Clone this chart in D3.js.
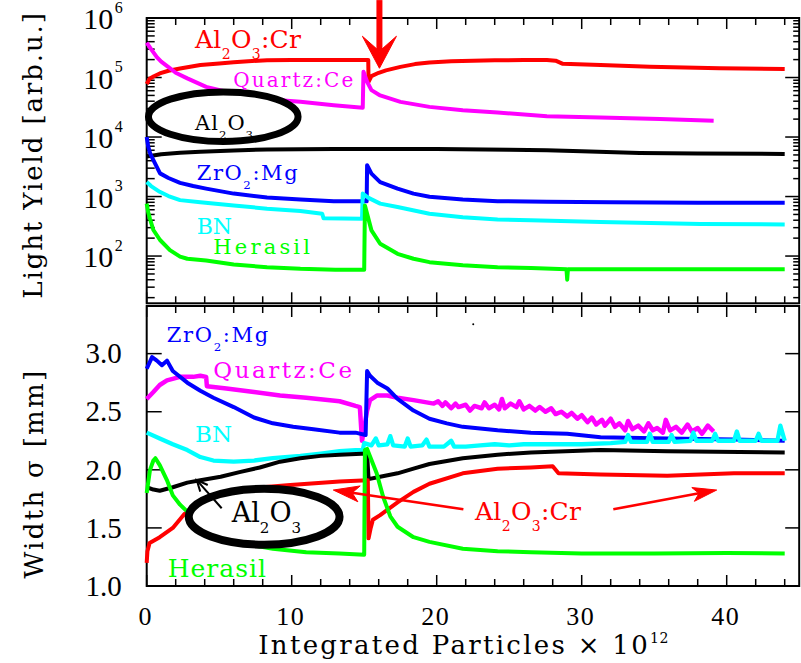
<!DOCTYPE html>
<html><head><meta charset="utf-8">
<script src="https://cdn.jsdelivr.net/npm/d3@7"></script>
<style>html,body{margin:0;padding:0;background:#fff;} svg{display:block;}</style>
</head><body><svg id="c" width="801" height="663"></svg>
<script>
// ---------------- DATA ----------------
const xMajor = [0, 10, 20, 30, 40];
const xMinor = [2,4,6,8,12,14,16,18,22,24,26,28,32,34,36,38,42,44];
const xTickLabels = ["0","10","20","30","40"];
const lyDecades = [100, 1000, 10000, 100000, 1000000];
const lyExp = ["2","3","4","5","6"];
const wTicks = [1.0, 1.5, 2.0, 2.5, 3.0];
const wTickLabels = ["1.0","1.5","2.0","2.5","3.0"];

// Light yield (top panel) [integrated particles x1e12, light yield]
const lyAl2O3Cr = [[0,78000],[0.2,95000],[0.5,105000],[0.9,117000],[1.5,130000],[2.3,142000],[3.7,162000],[5,172000],[6,180000],[7,188000],[8.3,195000],[10,196000],[12,196000],[14,196000],[15.28,196000],[15.3,84700],[15.5,105700],[16,120000],[16.5,132000],[17.5,151000],[18.5,168000],[19.5,179000],[21,187000],[22.5,192000],[24,195000],[26,196000],[27.6,197000],[28.2,192000],[28.7,170000],[31.3,162000],[34.7,152000],[39.5,143000],[44,139000]];
const lyQuartzCe = [[0,384000],[0.3,300000],[0.7,220000],[1.0,185000],[1.5,150000],[2,120000],[2.8,96700],[4.1,69600],[6,54000],[8.3,43300],[10.6,39000],[12.9,34300],[14.9,31000],[14.95,125000],[15.2,85000],[15.5,61400],[16.1,50000],[17.5,39000],[19.5,32100],[21.8,28300],[24.2,25800],[27.6,22400],[31.3,21300],[35.4,20000],[39.1,18700]];
const lyAl2O3 = [[0,4700],[1,5150],[2.3,5440],[3.7,5630],[6,5950],[8.3,6170],[12.9,6270],[15,6300],[20,6270],[25,6100],[27.6,6000],[30,5750],[34,5400],[38,5300],[44,5200]];
const lyZrO2Mg = [[0,10000],[0.1,7000],[0.25,5200],[0.46,4100],[0.92,2450],[1.5,2050],[2.3,1700],[3.2,1500],[4.1,1360],[6,1120],[8.3,960],[10.6,890],[12.9,836],[15.17,830],[15.2,3350],[15.5,2430],[16.1,1750],[17.3,1360],[18.4,1120],[19.5,990],[21.8,890],[24.2,836],[27.6,820],[32,800],[38,790],[44,790]];
const lyBN = [[0,1750],[0.3,1500],[0.9,1200],[1.5,1020],[2.3,870],[3.7,800],[6,710],[8.3,625],[10.6,570],[12.1,515],[12.2,430],[14.85,425],[14.9,1120],[15.3,950],[16.1,760],[17.3,665],[19.5,515],[21.8,450],[24.2,413],[26.5,400],[31.3,372],[38.2,345],[44,340]];
const lyHerasil = [[0,760],[0.1,550],[0.23,420],[0.46,274],[0.92,186],[1.6,126],[2.3,98],[2.8,90],[4.1,84],[6,72],[8.3,65],[10.6,61],[13,59],[15.0,59],[15.05,710],[15.5,270],[16.1,161],[17.3,109],[18.4,90],[19.5,79],[21.8,70],[24.2,65],[26.5,63],[28.95,60],[29.0,40],[29.05,60],[35,60],[44,60]];

// Beam width (bottom panel) [integrated particles x1e12, width sigma mm]
const wZrO2Mg = [[0,2.87],[0.37,2.97],[0.7,2.94],[1.05,2.90],[1.4,2.94],[1.8,2.85],[2.8,2.75],[3.7,2.68],[4.6,2.62],[6,2.54],[7.4,2.45],[8.7,2.40],[10.1,2.37],[11.5,2.35],[13.3,2.32],[14.4,2.32],[15.1,2.30],[15.2,2.85],[15.4,2.81],[15.9,2.75],[16.6,2.70],[17.3,2.61],[18.4,2.51],[19.5,2.44],[20.7,2.40],[21.8,2.37],[24.2,2.34],[26.5,2.32],[29,2.31],[31.3,2.28],[35.9,2.27],[40.5,2.26],[44,2.25]];
const wQuartzCe = [[0,2.61],[0.46,2.67],[0.9,2.73],[1.4,2.77],[2.3,2.80],[3.2,2.80],[3.7,2.81],[4.1,2.80],[4.15,2.72],[5.5,2.70],[7.4,2.67],[9.2,2.64],[11,2.62],[13.3,2.59],[14.4,2.55],[14.7,2.54],[14.85,2.25],[15.2,2.51],[15.4,2.60],[15.9,2.64],[16.6,2.64],[17.3,2.62],[18.4,2.60],[19.8,2.57],[20.1,2.59],[20.4,2.55],[20.6,2.58],[21.0,2.53],[21.3,2.57],[21.5,2.54],[22.0,2.56],[22.3,2.51],[22.6,2.55],[23.1,2.53],[23.3,2.58],[23.6,2.53],[24.0,2.56],[24.3,2.52],[24.5,2.61],[24.7,2.53],[25.1,2.57],[25.5,2.54],[25.7,2.59],[26.0,2.52],[26.4,2.55],[26.8,2.51],[27.1,2.54],[27.5,2.50],[27.9,2.53],[28.2,2.48],[28.6,2.50],[29.0,2.46],[29.3,2.49],[29.7,2.44],[30.0,2.47],[30.4,2.41],[30.7,2.45],[31.0,2.39],[31.4,2.43],[31.6,2.38],[32.0,2.44],[32.3,2.37],[32.6,2.40],[33.0,2.34],[33.2,2.42],[33.5,2.35],[33.9,2.38],[34.3,2.33],[34.6,2.40],[34.9,2.34],[35.2,2.36],[35.6,2.32],[35.8,2.43],[36.1,2.34],[36.5,2.37],[36.9,2.32],[37.3,2.39],[37.6,2.33],[38.0,2.36],[38.3,2.31],[38.7,2.38],[39.1,2.33]];
const wBN = [[0,2.32],[0.9,2.27],[1.8,2.22],[2.8,2.17],[3.7,2.11],[4.6,2.08],[6,2.07],[7.4,2.08],[8.7,2.10],[10.6,2.12],[12,2.14],[13.3,2.16],[14.4,2.17],[14.9,2.17],[15.0,2.23],[15.5,2.21],[15.8,2.27],[16.0,2.21],[16.6,2.22],[16.8,2.29],[17.0,2.21],[17.8,2.20],[18.0,2.27],[18.2,2.20],[19,2.21],[19.3,2.26],[19.5,2.20],[20.5,2.20],[21,2.25],[21.2,2.20],[22,2.20],[23,2.21],[24,2.22],[25,2.21],[26,2.22],[27,2.22],[28,2.22],[30,2.22],[32,2.23],[33,2.24],[33.2,2.30],[33.4,2.24],[34.5,2.24],[34.7,2.31],[34.9,2.24],[36,2.24],[36.2,2.30],[36.4,2.24],[37.5,2.25],[37.7,2.32],[37.9,2.25],[39,2.25],[39.2,2.31],[39.4,2.25],[40.5,2.25],[40.7,2.33],[40.9,2.25],[42,2.25],[42.2,2.31],[42.4,2.25],[43.5,2.25],[43.7,2.38],[44,2.25]];
const wAl2O3 = [[0,1.85],[0.46,1.83],[0.9,1.82],[1.8,1.85],[2.8,1.89],[3.7,1.91],[5.1,1.94],[6.4,1.98],[7.8,2.02],[9.2,2.07],[10.6,2.10],[12,2.12],[13.3,2.13],[15.2,2.14],[15.3,1.92],[16.1,1.94],[17.3,1.97],[18.4,2.01],[19.5,2.05],[21.8,2.10],[24.2,2.13],[26.5,2.15],[31.3,2.17],[35.9,2.16],[44,2.15]];
const wAl2O3Cr = [[0,1.20],[0.05,1.30],[0.2,1.37],[0.9,1.42],[1.8,1.50],[2.6,1.62],[4,1.72],[5.7,1.82],[8,1.85],[9.9,1.87],[13.3,1.90],[15.25,1.91],[15.3,1.41],[15.45,1.50],[15.6,1.57],[16.1,1.61],[17.3,1.72],[18.4,1.81],[19.5,1.88],[21.8,1.97],[24.2,2.01],[26.5,2.02],[28,2.03],[28.4,1.97],[31.3,1.96],[35.9,1.95],[40.5,1.97],[44,1.97]];
const wHerasil = [[0,1.80],[0.23,2.0],[0.46,2.08],[0.6,2.10],[0.9,2.04],[1.4,1.91],[1.8,1.78],[2.3,1.70],[2.8,1.64],[3.5,1.55],[4.6,1.42],[6.4,1.37],[8.7,1.32],[11,1.29],[13.3,1.28],[15.0,1.27],[15.05,2.17],[15.2,2.18],[15.86,1.97],[16.3,1.77],[16.8,1.60],[17.3,1.51],[18.4,1.42],[19.5,1.38],[21.8,1.32],[24.2,1.30],[26.5,1.29],[30,1.28],[35,1.28],[40,1.285],[44,1.28]];

// ---------------- CHART ----------------
const svg = d3.select("#c");
const TXT = "DejaVu Serif", NUM = "Liberation Serif";
const x = d3.scaleLinear().domain([0, 45]).range([146.7, 799.2]);
const yTop = d3.scaleLog().domain([Math.pow(10, 1.206), 1e6]).range([303.3, 18]);
const yBot = d3.scaleLinear().domain([1.0, 3.41]).range([586, 306]);

const RED="#ff0000", MAG="#ff00ff", BLK="#000000", BLU="#0000ff", CYN="#00ffff", GRN="#00ff00";

function drawCurve(data, ys, color, w) {
  svg.append("path").datum(data)
    .attr("d", d3.line().x(d => x(d[0])).y(d => ys(d[1])))
    .attr("fill", "none").attr("stroke", color).attr("stroke-width", w || 4)
    .attr("stroke-linejoin", "round").attr("stroke-linecap", "butt");
}

// frames & ticks
function frame(ys) {
  const [y0, y1] = ys.range(); // bottom, top
  const g = svg.append("g").attr("stroke", "#000").attr("fill", "none");
  g.append("rect").attr("x", x(0)).attr("y", y1).attr("width", x(45) - x(0)).attr("height", y0 - y1).attr("stroke-width", 2);
  const t = g.append("g").attr("stroke-width", 1.5);
  xMajor.forEach(v => {
    t.append("line").attr("x1", x(v)).attr("x2", x(v)).attr("y1", y0).attr("y2", y0 - 11);
    t.append("line").attr("x1", x(v)).attr("x2", x(v)).attr("y1", y1).attr("y2", y1 + 11);
  });
  xMinor.forEach(v => {
    t.append("line").attr("x1", x(v)).attr("x2", x(v)).attr("y1", y0).attr("y2", y0 - 7);
    t.append("line").attr("x1", x(v)).attr("x2", x(v)).attr("y1", y1).attr("y2", y1 + 7);
  });
  return t;
}
const tTop = frame(yTop);
const xl = x(0), xr = x(45);
lyDecades.forEach(v => {
  tTop.append("line").attr("x1", xl).attr("x2", xl + 15).attr("y1", yTop(v)).attr("y2", yTop(v));
  tTop.append("line").attr("x1", xr).attr("x2", xr - 14).attr("y1", yTop(v)).attr("y2", yTop(v));
});
[10, 100, 1000, 1e4, 1e5].forEach(d => {
  for (let m = 2; m <= 9; m++) {
    const v = m * d;
    if (v < yTop.domain()[0]) continue;
    tTop.append("line").attr("x1", xl).attr("x2", xl + 8).attr("y1", yTop(v)).attr("y2", yTop(v));
    tTop.append("line").attr("x1", xr).attr("x2", xr - 6).attr("y1", yTop(v)).attr("y2", yTop(v));
  }
});
const tBot = frame(yBot);
wTicks.forEach(v => {
  tBot.append("line").attr("x1", xl).attr("x2", xl + 15).attr("y1", yBot(v)).attr("y2", yBot(v));
  tBot.append("line").attr("x1", xr).attr("x2", xr - 14).attr("y1", yBot(v)).attr("y2", yBot(v));
});

// tick labels
lyDecades.forEach((v, i) => {
  const t = svg.append("text").attr("x", 83.3).attr("y", yTop(v) + 11)
    .attr("font-family", NUM).attr("font-size", 30).attr("fill", "#000");
  t.append("tspan").text("10");
  t.append("tspan").attr("font-size", 16).attr("dx", 1.5).attr("dy", -16.5).text(lyExp[i]);
});
wTicks.forEach((v, i) => {
  svg.append("text").attr("x", 121.7).attr("y", yBot(v) + 9.7).attr("text-anchor", "end")
    .attr("font-family", NUM).attr("font-size", 29).attr("fill", "#000").text(wTickLabels[i]);
});
xMajor.forEach((v, i) => {
  svg.append("text").attr("x", x(v) - 1).attr("y", 625).attr("text-anchor", "middle")
    .attr("font-family", NUM).attr("font-size", 26).attr("letter-spacing", 1.5).attr("fill", "#000").text(xTickLabels[i]);
});

// axis titles
svg.append("text").attr("transform", "translate(41.7,155) rotate(-90)").attr("text-anchor", "middle")
  .attr("font-family", TXT).attr("font-size", 26).attr("letter-spacing", 1.9).attr("fill", "#000")
  .text("Light Yield [arb.u.]");
svg.append("text").attr("transform", "translate(42.7,473.5) rotate(-90)").attr("text-anchor", "middle")
  .attr("font-family", TXT).attr("font-size", 26).attr("letter-spacing", 2.3).attr("fill", "#000")
  .text("Width σ [mm]");
{
  const t = svg.append("text").attr("x", 258.3).attr("y", 654)
    .attr("font-family", TXT).attr("font-size", 26).attr("letter-spacing", 2.3).attr("fill", "#000");
  t.append("tspan").text("Integrated Particles × 10");
  t.append("tspan").attr("font-size", 14).attr("dy", -11).attr("letter-spacing", 0.5).text("12");
}

// curves
drawCurve(lyAl2O3, yTop, BLK);
drawCurve(lyAl2O3Cr, yTop, RED);
drawCurve(lyQuartzCe, yTop, MAG);
drawCurve(lyZrO2Mg, yTop, BLU);
drawCurve(lyBN, yTop, CYN);
drawCurve(lyHerasil, yTop, GRN);

drawCurve(wQuartzCe, yBot, MAG, 4.5);
drawCurve(wZrO2Mg, yBot, BLU);
drawCurve(wBN, yBot, CYN, 4.3);
drawCurve(wAl2O3, yBot, BLK);
drawCurve(wAl2O3Cr, yBot, RED);
drawCurve(wHerasil, yBot, GRN);

// ---------------- ANNOTATIONS ----------------
function ellipse(cx, cy, rx, ry, sw) {
  svg.append("ellipse").attr("cx", cx).attr("cy", cy).attr("rx", rx).attr("ry", ry)
    .attr("fill", "#fff").attr("stroke", "#000").attr("stroke-width", sw);
}
ellipse(x(5.28), yTop(21960), 74.8, 24.8, 7);
ellipse(x(8.10), yBot(1.596), 75.4, 27.9, 8);

function label(px, py, parts, size, ls, color) {
  const t = svg.append("text").attr("x", px).attr("y", py).attr("font-family", TXT)
    .attr("font-size", size).attr("letter-spacing", ls).attr("fill", color);
  let sub = false;
  parts.forEach(p => {
    const s = t.append("tspan");
    if (p.sub) {
      s.attr("font-size", size * 0.56).attr("dy", size * 0.42).text(p.sub);
      sub = true;
    } else {
      if (sub) s.attr("dy", -size * 0.42);
      sub = false;
      s.text(p.t);
    }
  });
}
// top panel labels
label(195, 48.3, [{t:"Al"},{sub:"2"},{t:"O"},{sub:"3"},{t:":Cr"}], 25, 0.3, RED);
label(233.3, 86.7, [{t:"Quartz:Ce"}], 20, 2.1, MAG);
label(195, 130, [{t:"Al"},{sub:"2"},{t:"O"},{sub:"3"}], 21, 1, BLK);
label(196.7, 180, [{t:"ZrO"},{sub:"2"},{t:":Mg"}], 21, 1.6, BLU);
label(196.7, 233.5, [{t:"BN"}], 22, 0, CYN);
label(213.3, 254, [{t:"Herasil"}], 21, 3.2, GRN);
// bottom panel labels
label(166.7, 341.7, [{t:"ZrO"},{sub:"2"},{t:":Mg"}], 21, 1.7, BLU);
label(213.3, 378.3, [{t:"Quartz:Ce"}], 23, 2.5, MAG);
label(195, 441.7, [{t:"BN"}], 23, 0, CYN);
label(167.7, 576.7, [{t:"Herasil"}], 25, 1, GRN);
label(231.7, 521.7, [{t:"Al"},{sub:"2"},{t:"O"},{sub:"3"}], 27, 0, BLK);
label(475, 520, [{t:"Al"},{sub:"2"},{t:"O"},{sub:"3"},{t:":Cr"}], 25, 0.3, RED);

// arrows
function arrow(tail, tip, color, sw, len, hw, notch, open) {
  const [x0, y0] = tail, [x1, y1] = tip;
  const dx = x1 - x0, dy = y1 - y0, L = Math.hypot(dx, dy);
  const ux = dx / L, uy = dy / L, nx = -uy, ny = ux;
  const bx = x1 - ux * len, by = y1 - uy * len;
  svg.append("line").attr("x1", x0).attr("y1", y0)
    .attr("x2", open ? x1 : x1 - ux * (len - notch)).attr("y2", open ? y1 : y1 - uy * (len - notch))
    .attr("stroke", color).attr("stroke-width", sw);
  if (open) {
    svg.append("path").attr("d", `M${bx + nx*hw},${by + ny*hw}L${x1},${y1}L${bx - nx*hw},${by - ny*hw}`)
      .attr("fill", "none").attr("stroke", color).attr("stroke-width", sw);
  } else {
    const mx = bx + ux * notch, my = by + uy * notch;
    svg.append("path").attr("d", `M${x1},${y1}L${bx + nx*hw},${by + ny*hw}L${mx},${my}L${bx - nx*hw},${by - ny*hw}Z`)
      .attr("fill", color).attr("stroke", color).attr("stroke-width", 1);
  }
}
// big red arrow (top)
arrow([x(16.05), yTop(2e6)], [x(16.05), yTop(143000)], RED, 6, 32, 17, 15, false);
// red arrows (bottom)
arrow([x(21.84), yBot(1.660)], [x(12.87), yBot(1.826)], RED, 2.5, 26, 8, 7, false);
arrow([x(32.18), yBot(1.660)], [x(39.31), yBot(1.826)], RED, 2.5, 24, 7, 6, false);
// black arrow (bottom)
arrow([x(5.17), yBot(1.669)], [x(3.45), yBot(1.912)], BLK, 2, 11, 5, 0, true);
// small dot
svg.append("circle").attr("cx", x(22.52)).attr("cy", yBot(3.253)).attr("r", 1).attr("fill", "#000");
</script></body></html>
